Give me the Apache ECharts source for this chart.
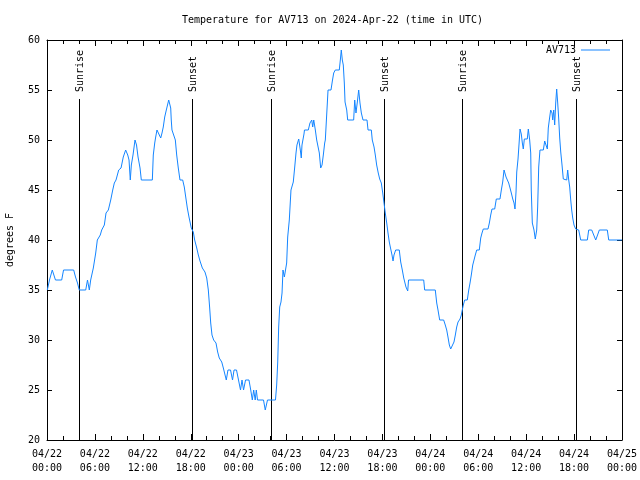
<!DOCTYPE html>
<html>
<head>
<meta charset="utf-8">
<script src="https://cdn.jsdelivr.net/npm/echarts@6/dist/echarts.min.js"></script>
<style>
html,body{margin:0;padding:0;background:#fff;}
#chart{width:640px;height:480px;}
</style>
</head>
<body>
<div id="chart"></div>
<script>
// Hours since 2024-04-22 00:00 UTC
const hours = [
0.04,0.31,0.66,0.84,1.06,1.84,2.07,3.34,3.57,3.82,4.04,4.85,5.07,5.30,5.47,5.80,6.10,6.30,6.67,6.85,
7.18,7.39,7.68,7.98,8.23,8.43,8.64,8.98,9.27,9.55,9.85,10.11,10.27,10.43,10.56,10.77,11.02,11.21,11.40,11.65,
11.81,13.19,13.31,13.49,13.61,13.77,14.02,14.24,14.40,14.56,14.74,14.94,15.24,15.36,15.49,15.56,15.65,15.90,16.07,16.24,
16.44,16.65,16.99,17.19,17.37,17.57,17.78,18.07,18.32,18.49,18.75,18.95,19.16,19.45,19.78,20.00,20.20,20.37,20.50,20.66,
20.87,21.16,21.37,21.57,21.88,22.08,22.23,22.45,22.66,22.98,23.23,23.42,23.73,23.98,24.23,24.42,24.61,24.86,25.29,25.51,
25.71,25.88,26.07,26.21,26.36,27.11,27.33,27.61,28.61,28.76,28.89,29.01,29.14,29.30,29.43,29.55,29.72,29.86,30.01,30.14,
30.34,30.55,30.84,31.02,31.18,31.30,31.52,31.72,31.84,31.93,32.18,32.24,32.72,32.93,33.15,33.27,33.40,33.60,33.77,34.02,
34.10,34.27,34.44,34.60,34.77,34.85,35.06,35.19,35.56,35.73,35.90,36.10,36.60,36.73,36.85,36.98,37.10,37.23,37.32,37.53,
37.65,38.40,38.53,38.69,38.86,39.03,39.19,39.36,39.57,40.07,40.20,40.61,40.73,40.95,41.11,41.28,41.48,41.66,41.86,42.04,
42.20,42.36,42.54,42.70,42.86,43.04,43.20,43.33,43.45,43.66,44.11,44.29,44.49,44.67,44.95,45.17,45.27,47.17,47.29,48.62,
48.80,48.96,49.17,49.67,49.87,50.05,50.21,50.38,50.55,50.80,50.96,51.13,51.30,51.47,51.72,51.88,52.00,52.13,52.30,52.63,
52.81,52.97,53.13,53.31,53.47,53.63,53.81,54.13,54.31,54.47,54.63,55.22,55.39,55.56,55.72,56.06,56.26,56.72,56.89,57.06,
57.23,57.35,57.48,57.64,57.81,57.98,58.14,58.32,58.48,58.60,58.73,58.82,58.98,59.10,59.23,59.39,59.52,59.64,59.77,60.14,
60.27,60.44,60.57,60.64,60.77,60.98,61.14,61.32,61.44,61.57,61.73,62.15,62.32,62.48,62.65,62.77,62.90,63.07,63.24,63.32,
63.45,63.57,63.70,63.82,63.95,64.07,64.20,64.33,64.49,64.65,65.08,65.20,65.33,65.45,65.58,65.70,65.83,65.99,66.20,66.58,
66.83,67.66,67.83,68.21,68.46,68.71,68.94,69.16,70.16,70.34,72.00
];
// Temperature, degrees F
const temps = [
35,36,37,37,36,36,37,37,36.3,35.7,35,35,36,35,36,37.2,38.7,40,40.5,41,
41.5,42.7,43,44,45,45.7,46,47,47.2,48.3,49,48.5,48,46,47.5,48.5,50,49.5,48.3,47.2,
46,46,48.5,49.7,50.3,51,51,50.2,50.7,51.3,52.3,53,54,54,53.2,52,51,51,50,48.5,
47.2,46,46,45.3,44.3,43.2,42.3,41.2,40.8,40,39.2,38.5,37.9,37.2,36.8,36.2,35,33.2,31.7,30.5,
30,29.7,28.8,28.2,27.8,27.2,27,26,27,27,26,27,27,26,25,26,25,26,26,25,
24,25,24,25,24,24,23,24,24,25.5,27.8,31.3,33.3,33.8,34.7,37,36.3,36.5,37.7,40.3,
42,45,45.8,47.3,48.7,49.5,50.1,49,48.2,49.5,50.6,51,51,51.7,52,51.3,52,51,50,50,
48.7,47.2,47.5,48.5,49.7,50,50,55,55,55.9,56.7,57,57,58,59,58,57.5,55.7,53.8,53,
52,52,54,52.7,53.8,55,53.7,52.7,52,52,51,51,50,49.3,48.5,47.5,46.7,46.1,45.7,44.7,
43.7,42.7,41.7,40.7,39.8,39.1,38.5,37.9,38.5,39,39,37.8,37,36.2,35.3,34.9,36,36,35,35,
33.7,33,32,32,31.5,31,30.3,29.5,29.1,29.1,29.8,30.5,31.3,31.8,32.1,32.5,33,33.5,34,34,
35,35.7,36.5,37.5,38,38.5,39,39,40.2,40.7,41.1,41.1,41.7,42.5,43.1,43.1,44.1,44.1,45,45.8,
47,46.8,46.3,46.1,45.7,45.2,44.7,44.1,43.7,43.1,44.8,46.8,48.1,49.5,51.1,50.6,49.7,49.1,50.1,50.1,
51.1,50,48.7,45,41.7,41,40.1,41,43.3,47.3,49,49,49.9,49.5,49.1,51.2,52,53,52.7,52,
53,51.5,53.7,55.1,53.7,52.2,50.2,48.8,47.5,46.1,46,47,46,45.3,44,43,42.2,41.5,41.1,41,
40,40,41,41,40.5,40,40.5,41,41,40,40
];
// Sunrise / sunset event times (hours since 04/22 00:00 UTC)
const sunHours = [4.05, 18.17, 28.03, 42.2, 52.0, 66.25];
const sunLabels = ['Sunrise', 'Sunset', 'Sunrise', 'Sunset', 'Sunrise', 'Sunset'];
const yMin = 20, yMax = 60, yStep = 5;
const xMin = 0, xMax = 72, xStep = 6;
const sunLineTop = 54.1;
const seriesName = 'AV713';
const titleText = 'Temperature for AV713 on 2024-Apr-22 (time in UTC)';
const yName = 'degrees F';

const FONT = '"DejaVu Sans Mono", monospace';
const lineColor = '#1485ff';

function xLabel(v) {
  const day = 22 + Math.floor(v / 24 + 1e-9);
  const hr = Math.round(v - (day - 22) * 24);
  return '04/' + String(day).padStart(2, '0') + '\n' + String(hr).padStart(2, '0') + ':00';
}

const chart = echarts.init(document.getElementById('chart'), null, {renderer: 'canvas'});
const axisCommon = {
  axisLine: {show: true, onZero: false, lineStyle: {color: '#000', width: 1}},
  splitLine: {show: false},
};
const option = {
  animation: false,
  backgroundColor: '#fff',
  title: {
    text: titleText,
    left: 182, top: 15, padding: 0,
    textStyle: {fontFamily: FONT, fontSize: 10, fontWeight: 'normal', color: '#000'}
  },
  legend: {
    data: [seriesName],
    right: 30, top: 45,
    align: 'right',
    icon: 'rect',
    itemWidth: 29, itemHeight: 1,
    padding: 0,
    textStyle: {fontFamily: FONT, fontSize: 10, color: '#000'}
  },
  grid: {left: 47, right: 18, top: 40, bottom: 40, containLabel: false, outerBoundsMode: 'none'},
  xAxis: [
    Object.assign({}, axisCommon, {
      type: 'value', position: 'bottom', min: xMin, max: xMax, interval: xStep,
      axisTick: {show: true, inside: true, length: 6, lineStyle: {color: '#000'}},
      minorTick: {show: true, splitNumber: 3, length: 4, lineStyle: {color: '#000'}},
      axisLabel: {show: true, margin: 7, formatter: xLabel, fontFamily: FONT, fontSize: 10, color: '#000', lineHeight: 14}
    }),
    Object.assign({}, axisCommon, {
      type: 'value', position: 'top', min: xMin, max: xMax, interval: xStep,
      axisTick: {show: true, inside: true, length: 6, lineStyle: {color: '#000'}},
      minorTick: {show: true, splitNumber: 3, length: 4, lineStyle: {color: '#000'}},
      axisLabel: {show: false}
    })
  ],
  yAxis: [
    Object.assign({}, axisCommon, {
      type: 'value', position: 'left', min: yMin, max: yMax, interval: yStep,
      axisTick: {show: true, inside: true, length: 5, lineStyle: {color: '#000'}},
      axisLabel: {show: true, margin: 7, fontFamily: FONT, fontSize: 10, color: '#000'},
      name: yName, nameLocation: 'middle', nameRotate: 90, nameGap: 32,
      nameTextStyle: {fontFamily: FONT, fontSize: 10, color: '#000'}
    }),
    Object.assign({}, axisCommon, {
      type: 'value', position: 'right', min: yMin, max: yMax, interval: yStep,
      axisTick: {show: true, inside: true, length: 5, lineStyle: {color: '#000'}},
      axisLabel: {show: false}
    })
  ],
  series: [
    {
      name: seriesName,
      type: 'line',
      xAxisIndex: 0, yAxisIndex: 0,
      data: hours.map((h, i) => [h, temps[i]]),
      showSymbol: false,
      symbol: 'none',
      color: lineColor,
      lineStyle: {color: lineColor, width: 1},
      z: 3
    },
    {
      name: 'sun',
      type: 'custom',
      xAxisIndex: 0, yAxisIndex: 0,
      data: sunHours.map(h => [h, yMin]),
      silent: true,
      z: 2,
      renderItem: function (params, api) {
        const t = api.value(0);
        const top = api.coord([t, sunLineTop]);
        const bot = api.coord([t, yMin]);
        const x = Math.round(top[0]) + 0.5;
        return {
          type: 'group',
          children: [
            {type: 'line', shape: {x1: x, y1: bot[1], x2: x, y2: Math.round(top[1])},
             style: {stroke: '#000', lineWidth: 1}},
            {type: 'text', x: x + 1, y: Math.round(top[1]) - 7, rotation: Math.PI / 2,
             style: {text: sunLabels[params.dataIndex], fill: '#000', font: '10px ' + FONT,
                     align: 'left', verticalAlign: 'middle'}}
          ]
        };
      }
    }
  ]
};
chart.setOption(option);
</script>
</body>
</html>
